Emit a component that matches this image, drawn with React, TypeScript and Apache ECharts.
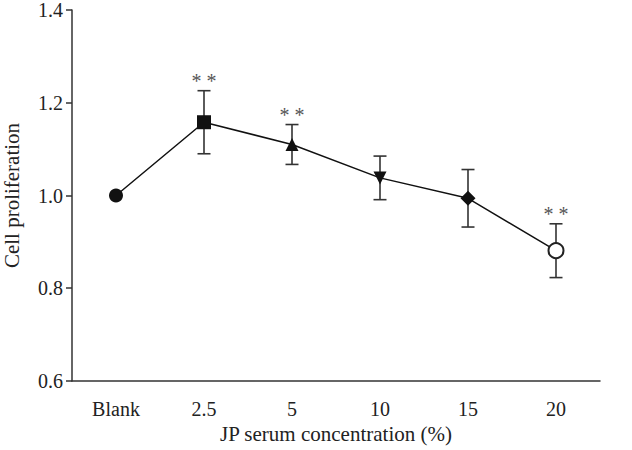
import React, { useEffect, useRef } from "react";
import * as echarts from "echarts";

const categories = ["Blank", "2.5", "5", "10", "15", "20"];
const means = [1.0, 1.158, 1.11, 1.038, 0.994, 0.881];
const errors = [0, 0.068, 0.043, 0.047, 0.062, 0.058];
const significance = ["", "* *", "* *", "", "", "* *"];
const symbols = ["circle", "rect", "triangle", "triangle", "diamond", "emptyCircle"];
const symbolRotations = [0, 0, 0, 180, 0, 0];
const symbolSizes = [14, 14, 13, 13, 15, 15];
const yTicks = [0.6, 0.8, 1.0, 1.2, 1.4];

const FONT = "'Liberation Serif', 'Times New Roman', serif";

export default function App() {
  const ref = useRef<HTMLDivElement>(null);
  useEffect(() => {
    document.body.style.margin = "0";
    const chart = echarts.init(ref.current!, null, { renderer: "svg" });
    const lineData = means.map((v, i) => ({
      value: [i, v],
      symbol: symbols[i],
      symbolRotate: symbolRotations[i],
      symbolSize: symbolSizes[i],
      itemStyle:
        symbols[i] === "emptyCircle"
          ? { color: "#222", borderColor: "#222", borderWidth: 1.6 }
          : { color: "#111", borderColor: "#111", borderWidth: 0 },
    }));
    const errData = means.map((v, i) => [i, v - errors[i], v + errors[i]]);
    chart.setOption({
      animation: false,
      backgroundColor: "#fff",
      grid: { left: 72, right: 32, top: 10, bottom: 69, outerBoundsMode: "none", containLabel: false },
      xAxis: {
        type: "category",
        data: categories,
        boundaryGap: true,
        name: "JP serum concentration (%)",
        nameLocation: "middle",
        nameGap: 42,
        nameTextStyle: { fontFamily: FONT, fontSize: 21, color: "#222" },
        axisLine: { lineStyle: { color: "#333", width: 1.5 } },
        axisTick: { alignWithLabel: true, length: 6, lineStyle: { color: "#333", width: 1.5 } },
        axisLabel: { fontFamily: FONT, fontSize: 20, color: "#222", margin: 18 },
      },
      yAxis: {
        type: "value",
        min: yTicks[0],
        max: yTicks[yTicks.length - 1],
        interval: 0.2,
        name: "Cell proliferation",
        nameLocation: "middle",
        nameGap: 50,
        nameTextStyle: { fontFamily: FONT, fontSize: 21, lineHeight: 21, color: "#222" },
        splitLine: { show: false },
        axisLine: { show: true, lineStyle: { color: "#333", width: 1.5 } },
        axisTick: { show: true, length: 6, lineStyle: { color: "#333", width: 1.5 } },
        axisLabel: {
          fontFamily: FONT,
          fontSize: 20,
          lineHeight: 16,
          color: "#222",
          margin: 9,
          formatter: (v: number) => v.toFixed(1),
        },
      },
      series: [
        {
          type: "custom",
          z: 1,
          data: errData,
          renderItem: (params: any, api: any) => {
            const i = api.value(0);
            const lo = api.coord([i, api.value(1)]);
            const hi = api.coord([i, api.value(2)]);
            const x = lo[0];
            const hw = 6.5;
            const style = { stroke: "#333", lineWidth: 1.6 };
            const children: any[] = [];
            if (errors[params.dataIndex] > 0) {
              children.push(
                { type: "line", shape: { x1: x, y1: lo[1], x2: x, y2: hi[1] }, style },
                { type: "line", shape: { x1: x - hw, y1: hi[1], x2: x + hw, y2: hi[1] }, style },
                { type: "line", shape: { x1: x - hw, y1: lo[1], x2: x + hw, y2: lo[1] }, style }
              );
            }
            const sig = significance[params.dataIndex];
            if (sig) {
              children.push({
                type: "text",
                x: x,
                y: hi[1] - 10,
                style: {
                  text: sig,
                  fontFamily: FONT,
                  fontSize: 20,
                  fill: "#555",
                  align: "center",
                  verticalAlign: "middle",
                },
              });
            }
            return { type: "group", children };
          },
        },
        {
          type: "line",
          z: 2,
          data: lineData,
          lineStyle: { color: "#111", width: 1.5 },
        },
      ],
    });
    return () => chart.dispose();
  }, []);
  return <div ref={ref} style={{ width: 632, height: 450 }} />;
}
